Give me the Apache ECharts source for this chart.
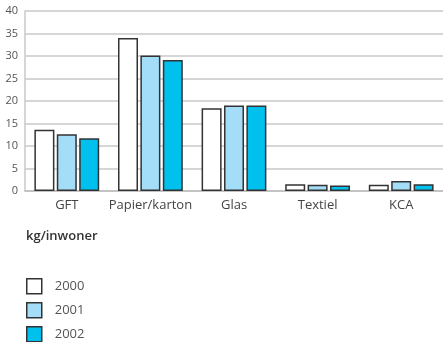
<!DOCTYPE html>
<html>
<head>
<meta charset="utf-8">
<script src="https://cdn.jsdelivr.net/npm/echarts@6/dist/echarts.min.js"></script>
<style>
  html, body { margin: 0; padding: 0; background: #fff; }
  #main { width: 443px; height: 342px; }
</style>
</head>
<body>
<div id="main"></div>
<script>
const categories = ['GFT', 'Papier/karton', 'Glas', 'Textiel', 'KCA'];
const years = ['2000', '2001', '2002'];
const values2000 = [13.6, 34.0, 18.4, 1.5, 1.4];
const values2001 = [12.6, 30.1, 19.0, 1.4, 2.2];
const values2002 = [11.7, 29.1, 19.0, 1.2, 1.5];
const yTicks = [0, 5, 10, 15, 20, 25, 30, 35, 40];
const unitLabel = 'kg/inwoner';

const colors = ['#ffffff', '#a3ddf7', '#00c0ee'];
const fontFamily = '"Open Sans", "Noto Sans", sans-serif';

const chart = echarts.init(document.getElementById('main'));

function makeSeries(name, data, color) {
  return {
    name: name,
    type: 'bar',
    data: data,
    barWidth: 20,
    barGap: '12%',
    itemStyle: {
      color: color,
      borderColor: '#333',
      borderWidth: 1.5
    },
    emphasis: {disabled: true}
  };
}

// one legend per year so they stack vertically without wrapping
const legends = years.map((y, i) => ({
  orient: 'vertical',
  left: 26,
  top: 278 + i * 24,
  padding: 0,
  icon: 'rect',
  itemWidth: 15,
  itemHeight: 15,
  data: [y],
  textStyle: {color: '#555', fontSize: 13, lineHeight: 15, fontFamily: fontFamily, padding: [0, 0, 0, 8]},
  itemStyle: {borderColor: '#333', borderWidth: 1.5}
}));

const option = {
  animation: false,
  textStyle: {fontFamily: fontFamily},
  grid: {left: 25, top: 11, width: 420, height: 180, containLabel: false},
  xAxis: {
    type: 'category',
    data: categories,
    axisLine: {lineStyle: {color: '#bdbdbd', width: 1.5}},
    axisTick: {show: false},
    axisLabel: {interval: 0, color: '#444', fontSize: 13, margin: 8, fontFamily: fontFamily}
  },
  yAxis: {
    type: 'value',
    min: yTicks[0],
    max: yTicks[yTicks.length - 1],
    interval: 5,
    axisLine: {show: true, lineStyle: {color: '#c8c8c8', width: 1.5}},
    axisTick: {show: false},
    axisLabel: {color: '#555', fontSize: 11, margin: 7, fontFamily: fontFamily},
    splitLine: {lineStyle: {color: '#c8c8c8', width: 1.5}}
  },
  legend: legends,
  graphic: [{
    type: 'text',
    left: 26,
    top: 230,
    style: {text: unitLabel, fill: '#333', font: '600 13px ' + fontFamily}
  }],
  series: [
    makeSeries(years[0], values2000, colors[0]),
    makeSeries(years[1], values2001, colors[1]),
    makeSeries(years[2], values2002, colors[2])
  ]
};

chart.setOption(option);
</script>
</body>
</html>
